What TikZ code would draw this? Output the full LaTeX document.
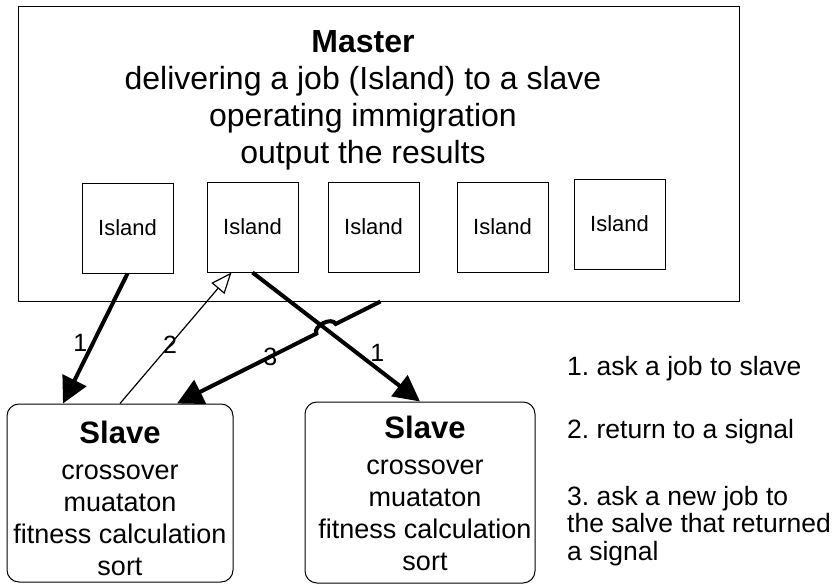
\documentclass[tikz,border=0pt]{standalone}
\usepackage{fontspec}
\setmainfont{Liberation Sans}
\usetikzlibrary{arrows.meta,calc}
\frenchspacing
\tikzset{
  box/.style={draw=black, line width=1pt, inner sep=0pt},
  island/.style={box, minimum width=91pt, minimum height=90pt, font=\fontsize{22}{26}\selectfont},
  slavebox/.style={box, rounded corners=12pt},
  slavetext/.style={anchor=north, align=center, inner sep=0pt, font=\fontsize{27}{32}\selectfont},
  legend/.style={anchor=north west, align=left, inner sep=0pt, font=\fontsize{26.5}{27.5}\selectfont},
  job/.style={line width=4pt, -{Triangle[length=26pt,width=26pt]}},
  signal/.style={line width=1.2pt, -{Triangle[open,length=21pt,width=17pt,line width=1.2pt]}},
  num/.style={inner sep=0pt, font=\fontsize{25}{25}\selectfont},
}

\begin{document}
\begin{tikzpicture}[x=1pt, y=-1pt]

	\fill[white] (0,0) rectangle (836,586);
	\useasboundingbox (0,0) rectangle (836,586);

	% master and its islands
	\node[box, minimum width=721pt, minimum height=294pt] (master) at (378.5,154) {};
	\node[anchor=north, align=center, inner sep=0pt, font=\fontsize{32}{37}\selectfont] (mtext) at (363,30)
		{\textbf{Master}\\delivering a job (Island) to a slave\\operating immigration\\output the results};
	\node[island] (isl1) at (127.5,228) {Island};
	\node[island] (isl2) at (252.5,227) {Island};
	\node[island] (isl3) at (373.5,227) {Island};
	\node[island] (isl4) at (502.5,227) {Island};
	\node[island] (isl5) at (619.5,224) {Island};

	% slaves
	\node[slavebox, minimum width=226pt, minimum height=178pt] (slaveA) at (120,493) {};
	\node[slavebox, minimum width=230pt, minimum height=181pt] (slaveB) at (420,492.5) {};
	\node[slavetext] (slaveAtext) at (120,421)
		{{\fontsize{31}{32}\selectfont\bfseries Slave}\\[4pt]crossover\\muataton\\fitness calculation\\sort};
	\node[slavetext] (slaveBtext) at (425,416)
		{{\fontsize{31}{32}\selectfont\bfseries Slave}\\[4pt]crossover\\muataton\\fitness calculation\\sort};

	% messages
	\coordinate (m3) at ([xshift=2pt]master.south);
	\coordinate (s3) at ([xshift=57pt]slaveA.north);
	\draw[job] (isl1.south) -- ([xshift=-57pt]slaveA.north) node[num, pos=.53, xshift=-13pt] (n1a) {1};
	\draw[signal] (slaveA.north) -- ([xshift=-21pt]isl2.south) node[num, pos=.45] (n2) {2};
	\draw[job] (isl2.south) -- (slaveB.north) node[num, pos=.62, xshift=21pt] (n1b) {1};
	\draw[job] (m3) -- ($(m3)!.22!(s3)$) to[bend right=90] ($(m3)!.315!(s3)$) -- (s3) node[num, pos=.33] (n3) {3};

	% legend
	\node[legend] (leg1) at (567,355.7) {1. ask a job to slave};
	\node[legend] (leg2) at (567,418.7) {2. return to a signal};
	\node[legend] (leg3) at (567,485.7) {3. ask a new job to\\the salve that returned\\a signal};

\end{tikzpicture}
\end{document}
